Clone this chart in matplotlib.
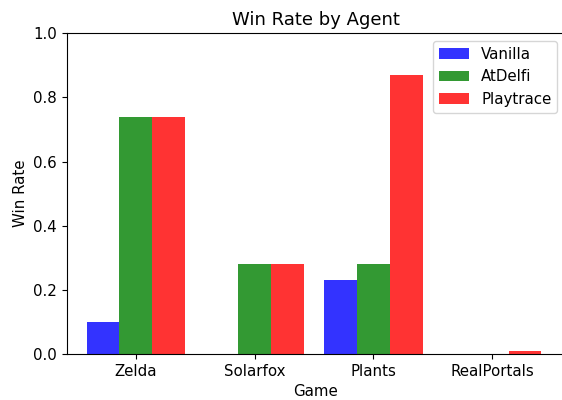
import numpy as np
import matplotlib
matplotlib.use("Agg")
import matplotlib.pyplot as plt

# Données
games = ['Zelda', 'Solarfox', 'Plants', 'RealPortals']
vanilla = [0.10, 0.0, 0.23, 0.0]
atdelfi = [0.74, 0.28, 0.28, 0.0]
playtrace = [0.74, 0.28, 0.87, 0.01]

index = np.arange(len(games))
bar_width = 0.275
opacity = 0.8

plt.rcParams['font.size'] = 10.8

fig = plt.figure(figsize=(5.62, 4.0), dpi=100)
# l'axe déborde légèrement à droite (image recadrée dans l'original)
ax = fig.add_axes([0.119, 0.115, 0.886, 0.802])

ax.bar(index - bar_width, vanilla, bar_width, alpha=opacity, color='b', label='Vanilla')
ax.bar(index, atdelfi, bar_width, alpha=opacity, color='g', label='AtDelfi')
ax.bar(index + bar_width, playtrace, bar_width, alpha=opacity, color='r', label='Playtrace')

ax.set_xlabel('Game')
ax.set_ylabel('Win Rate')
ax.set_title('Win Rate by Agent')
ax.set_xticks(index)
ax.set_xticklabels(games)
ax.set_ylim(0, 1)
ax.set_xlim(-0.58, 3.61)
ax.legend(loc='upper right')

fig.savefig('out.png', dpi=100)
